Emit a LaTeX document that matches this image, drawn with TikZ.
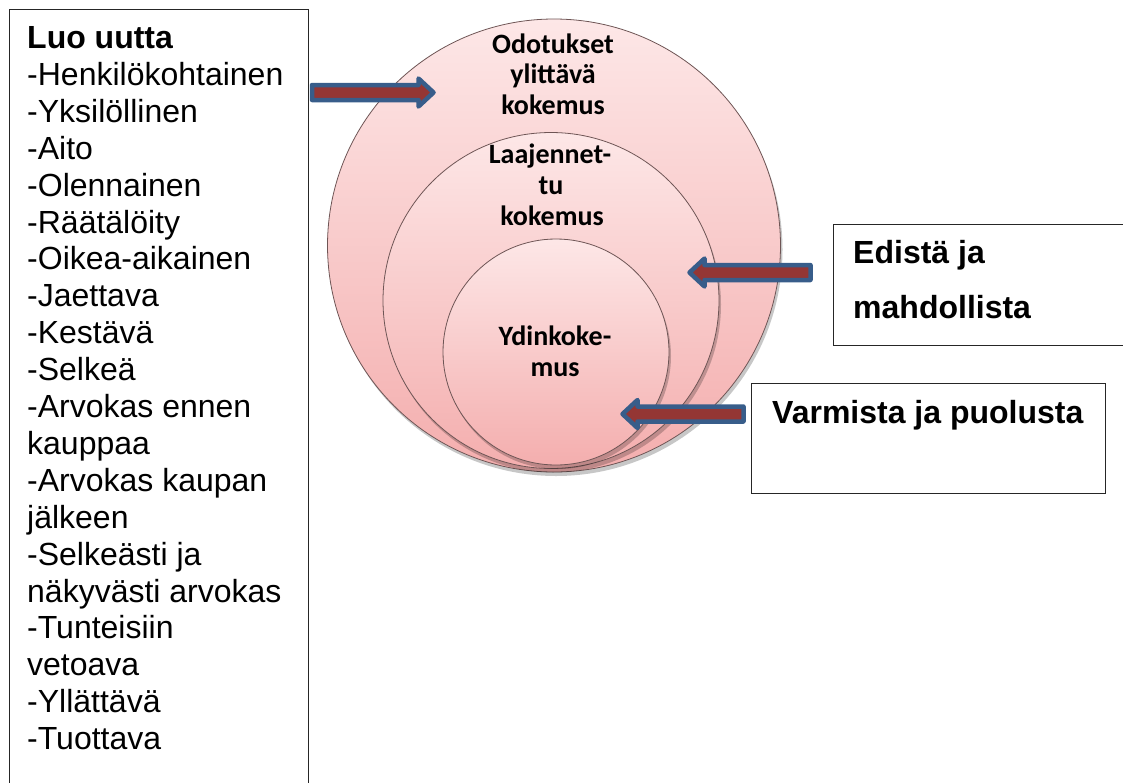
\documentclass[tikz,border=0pt]{standalone}
\usepackage{fontspec}
\setmainfont{Liberation Sans}
\newfontfamily\calib{Carlito}
\usetikzlibrary{calc,shadows}
\definecolor{arrblue}{RGB}{56,93,138}
\definecolor{arrred}{RGB}{148,54,52}
\definecolor{ctop}{RGB}{253,231,231}
\definecolor{cbot}{RGB}{244,174,174}
\definecolor{cline}{RGB}{110,85,85}
\newcommand{\blockarrow}[2]{%
  \path ($(#2)!15pt!(#1)$) coordinate (ba);
  \draw[blockarr] ($(#1)!7.5pt!90:(#2)$) -- ($(ba)!7.5pt!-90:(#1)$) -- ($(ba)!14pt!-90:(#1)$) -- (#2)
    -- ($(ba)!14pt!90:(#1)$) -- ($(ba)!7.5pt!90:(#1)$) -- ($(#1)!7.5pt!-90:(#2)$) -- cycle;}
\begin{document}
\begin{tikzpicture}[x=1pt,y=-1pt,
  ring/.style={circle, draw=cline, line width=0.8pt, top color=ctop, bottom color=cbot, inner sep=0pt,
    drop shadow={shadow xshift=2pt, shadow yshift=-4pt, opacity=0.22, fill=black}},
  circtext/.style={font=\calib\bfseries\fontsize{28}{31}\selectfont, anchor=base, inner sep=0pt},
  listtext/.style={font=\fontsize{32}{37}\selectfont, anchor=base west, inner sep=0pt},
  boldtext/.style={font=\bfseries\fontsize{32}{37}\selectfont, anchor=base west, inner sep=0pt},
  box/.style={draw=black!85, line width=1pt, fill=white, anchor=north west, inner sep=0pt},
  blockarr/.style={draw=arrblue, fill=arrred, line width=4.5pt, line join=round}]
\path[use as bounding box] (0,0) rectangle (1123,782);
\clip (0,0) rectangle (1123,782);
% circles
\node[ring, minimum size=453] (outer) at (554,245.5) {};
\node[ring, minimum size=336] (middle) at (551,300.5) {};
\node[ring, minimum size=226] (inner) at (556,352) {};
% circle labels
\node[circtext] (o1) at (553,53) {Odotukset};
\node[circtext] (o2) at (553,83.5) {ylittävä};
\node[circtext] (o3) at (553,114) {kokemus};
\node[circtext] (m1) at (550,163) {Laajennet-};
\node[circtext] (m2) at (551,194) {tu};
\node[circtext] (m3) at (552,225) {kokemus};
\node[circtext] (i1) at (555,345) {Ydinkoke-};
\node[circtext] (i2) at (555,376) {mus};
% boxes
\node[box, minimum width=299, minimum height=800] (lbox) at (9,9) {};
\node[box, minimum width=310, minimum height=121] (ebox) at (833,224) {};
\node[box, minimum width=354, minimum height=110] (vbox) at (751,383) {};
% left list
\node[boldtext] (title) at (27,48.5) {Luo uutta};
\foreach \t [count=\i] in {-Henkilökohtainen,-Yksilöllinen,-Aito,-Olennainen,-Räätälöity,-Oikea-aikainen,-Jaettava,-Kestävä,-Selkeä,-Arvokas ennen,kauppaa,-Arvokas kaupan,jälkeen,-Selkeästi ja,näkyvästi arvokas,-Tunteisiin,vetoava,-Yllättävä,-Tuottava}
  \node[listtext] (li\i) at (27,48.5+36.9*\i) {\t};
% right texts
\node[boldtext] (e1) at (853,263) {Edistä ja};
\node[boldtext] (e2) at (853,318) {mahdollista};
\node[boldtext] (v1) at (772,423) {Varmista ja puolusta};
% arrows
\coordinate (a1t) at (312,92.5);
\coordinate (a1h) at (433.5,92.5);
\coordinate (a2t) at (810.5,272.5);
\coordinate (a2h) at (689.5,272.5);
\coordinate (a3t) at (743.5,414);
\coordinate (a3h) at (622.5,414);
\blockarrow{a1t}{a1h}
\blockarrow{a2t}{a2h}
\blockarrow{a3t}{a3h}
\end{tikzpicture}
\end{document}
